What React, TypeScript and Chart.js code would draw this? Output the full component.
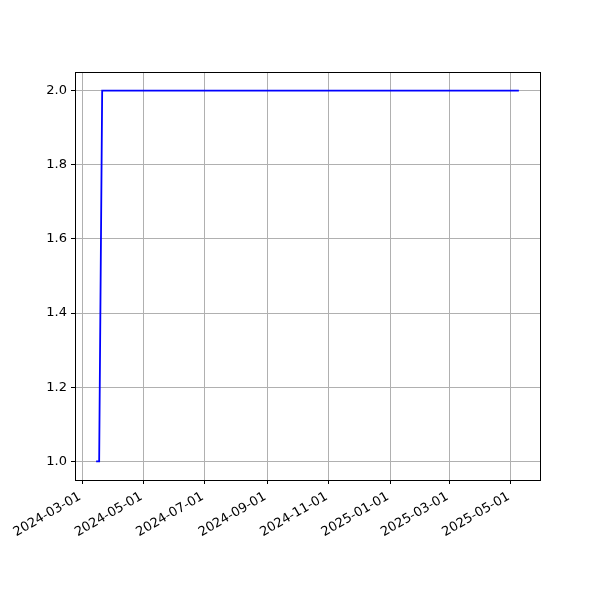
import React, { useEffect, useRef } from "react";
import { Chart, registerables } from "chart.js";

Chart.register(...registerables);

const dates = ["2024-03-15", "2024-03-18", "2024-03-21", "2025-05-09"];
const values = [1, 1, 2, 2];
const xTickDates = [
  "2024-03-01",
  "2024-05-01",
  "2024-07-01",
  "2024-09-01",
  "2024-11-01",
  "2025-01-01",
  "2025-03-01",
  "2025-05-01",
];
const yTickValues = [1.0, 1.2, 1.4, 1.6, 1.8, 2.0];

const toMs = (s: string) => {
  const [y, m, d] = s.split("-").map(Number);
  return Date.UTC(y, m - 1, d);
};
const fmt = (v: number) => {
  const d = new Date(v);
  const p = (n: number) => String(n).padStart(2, "0");
  return `${d.getUTCFullYear()}-${p(d.getUTCMonth() + 1)}-${p(d.getUTCDate())}`;
};

const framePlugin = {
  id: "frame",
  afterDraw(chart: any) {
    const { ctx, chartArea } = chart;
    ctx.save();
    ctx.strokeStyle = "#000";
    ctx.lineWidth = 1;
    ctx.strokeRect(
      Math.round(chartArea.left) + 0.5,
      Math.round(chartArea.top) + 0.5,
      Math.round(chartArea.right - chartArea.left),
      Math.round(chartArea.bottom - chartArea.top)
    );
    ctx.restore();
  },
};

export default function App() {
  const ref = useRef<HTMLCanvasElement | null>(null);
  useEffect(() => {
    document.body.style.margin = "0";
    const xs = dates.map(toMs);
    const span = xs[xs.length - 1] - xs[0];
    const xMin = xs[0] - span * 0.05;
    const xMax = xs[xs.length - 1] + span * 0.05;
    const chart = new Chart(ref.current!, {
      type: "line",
      data: {
        datasets: [
          {
            data: xs.map((x, i) => ({ x, y: values[i] })),
            borderColor: "#0000ff",
            borderWidth: 1.8,
            pointRadius: 0,
            tension: 0,
            fill: false,
          },
        ],
      },
      plugins: [framePlugin],
      options: {
        responsive: false,
        animation: false,
        events: [],
        layout: { padding: { left: 0, top: 72, right: 60, bottom: 0 } },
        plugins: { legend: { display: false }, tooltip: { enabled: false } },
        scales: {
          x: {
            type: "linear",
            min: xMin,
            max: xMax,
            afterBuildTicks: (scale: any) => {
              scale.ticks = xTickDates.map((s) => ({ value: toMs(s) }));
            },
            afterFit: (scale: any) => {
              scale.height = 120;
            },
            border: { display: false },
            grid: {
              color: "#b0b0b0",
              lineWidth: 1,
              tickColor: "#000",
              tickLength: 4,
              drawTicks: true,
            },
            ticks: {
              minRotation: 30,
              maxRotation: 30,
              autoSkip: false,
              color: "#000",
              padding: 5,
              labelOffset: -2,
              font: { family: "DejaVu Sans", size: 13 },
              callback: (v: any) => fmt(Number(v)),
            },
          },
          y: {
            type: "linear",
            min: 0.95,
            max: 2.05,
            afterBuildTicks: (scale: any) => {
              scale.ticks = yTickValues.map((v) => ({ value: v }));
            },
            afterFit: (scale: any) => {
              scale.width = 75;
            },
            border: { display: false },
            grid: {
              color: "#b0b0b0",
              lineWidth: 1,
              tickColor: "#000",
              tickLength: 4,
            },
            ticks: {
              color: "#000",
              padding: 4,
              font: { family: "DejaVu Sans", size: 13 },
              callback: (v: any) => Number(v).toFixed(1),
            },
          },
        },
      },
    });
    return () => chart.destroy();
  }, []);
  return (
    <div style={{ width: 600, height: 600 }}>
      <canvas ref={ref} width={600} height={600} style={{ display: "block" }} />
    </div>
  );
}
